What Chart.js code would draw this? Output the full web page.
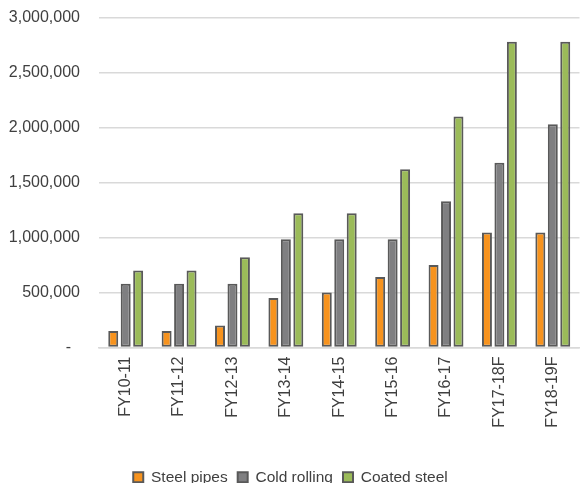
<!DOCTYPE html>
<html>
<head>
<meta charset="utf-8">
<script src="https://cdn.jsdelivr.net/npm/chart.js@4/dist/chart.umd.min.js"></script>
<style>
  html, body { margin: 0; padding: 0; background: #ffffff; }
  canvas { display: block; }
</style>
</head>
<body>
<canvas id="steelChart" width="581" height="483"></canvas>
<script>
// Data
const categories = ['FY10-11', 'FY11-12', 'FY12-13', 'FY13-14', 'FY14-15', 'FY15-16', 'FY16-17', 'FY17-18F', 'FY18-19F'];
const steelPipes = [150000, 150000, 200000, 450000, 500000, 640000, 750000, 1045000, 1045000];
const coldRolling = [580000, 580000, 580000, 985000, 985000, 985000, 1330000, 1680000, 2030000];
const coatedSteel = [700000, 700000, 820000, 1220000, 1220000, 1620000, 2100000, 2780000, 2780000];
const yTicks = [0, 500000, 1000000, 1500000, 2000000, 2500000, 3000000];

const textColor = '#404040';
const edgeColor = '#595959';
const fontFamily = "'Liberation Sans', Arial, sans-serif";

function barSet(label, data, color) {
    return {
        label: label,
        data: data,
        backgroundColor: color,
        borderColor: edgeColor,
        borderWidth: 2,
        borderSkipped: false,
        categoryPercentage: 0.7,
        barPercentage: 0.8
    };
}

const steelCtx = document.getElementById('steelChart').getContext('2d');
const steelChart = new Chart(steelCtx, {
    type: 'bar',
    data: {
        labels: categories,
        datasets: [
            barSet('Steel pipes', steelPipes, '#f7931e'),
            barSet('Cold rolling', coldRolling, '#7f7f81'),
            barSet('Coated steel', coatedSteel, '#9bbb59')
        ]
    },
    options: {
        responsive: false,
        animation: false,
        layout: { padding: { top: 5, right: 0, bottom: -12, left: 0 } },
        plugins: {
            tooltip: { enabled: false },
            legend: {
                position: 'bottom',
                labels: {
                    color: textColor,
                    font: { family: fontFamily, size: 15.5 },
                    boxWidth: 10,
                    boxHeight: 10,
                    padding: 10
                }
            }
        },
        scales: {
            x: {
                grid: { display: false, drawTicks: false },
                border: { display: true, color: '#d9d9d9', width: 1.5 },
                ticks: {
                    color: textColor,
                    font: { family: fontFamily, size: 16 },
                    minRotation: 90,
                    maxRotation: 90,
                    padding: 9
                },
                afterFit: function (scale) { scale.height = 112; }
            },
            y: {
                min: 0,
                max: 3000000,
                // tick marks kept invisible, they only push the labels left
                grid: { color: '#d9d9d9', lineWidth: 1.5, drawTicks: true, tickLength: 11, tickColor: 'rgba(0,0,0,0)' },
                border: { display: false },
                afterBuildTicks: function (scale) {
                    scale.ticks = yTicks.map(v => ({ value: v }));
                },
                ticks: {
                    color: textColor,
                    font: { family: fontFamily, size: 16 },
                    padding: 8,
                    callback: function (value) {
                        return value === 0 ? '-  ' : value.toLocaleString('en-US');
                    }
                },
                afterFit: function (scale) { scale.width = 99; }
            }
        }
    }
});
</script>
</body>
</html>
